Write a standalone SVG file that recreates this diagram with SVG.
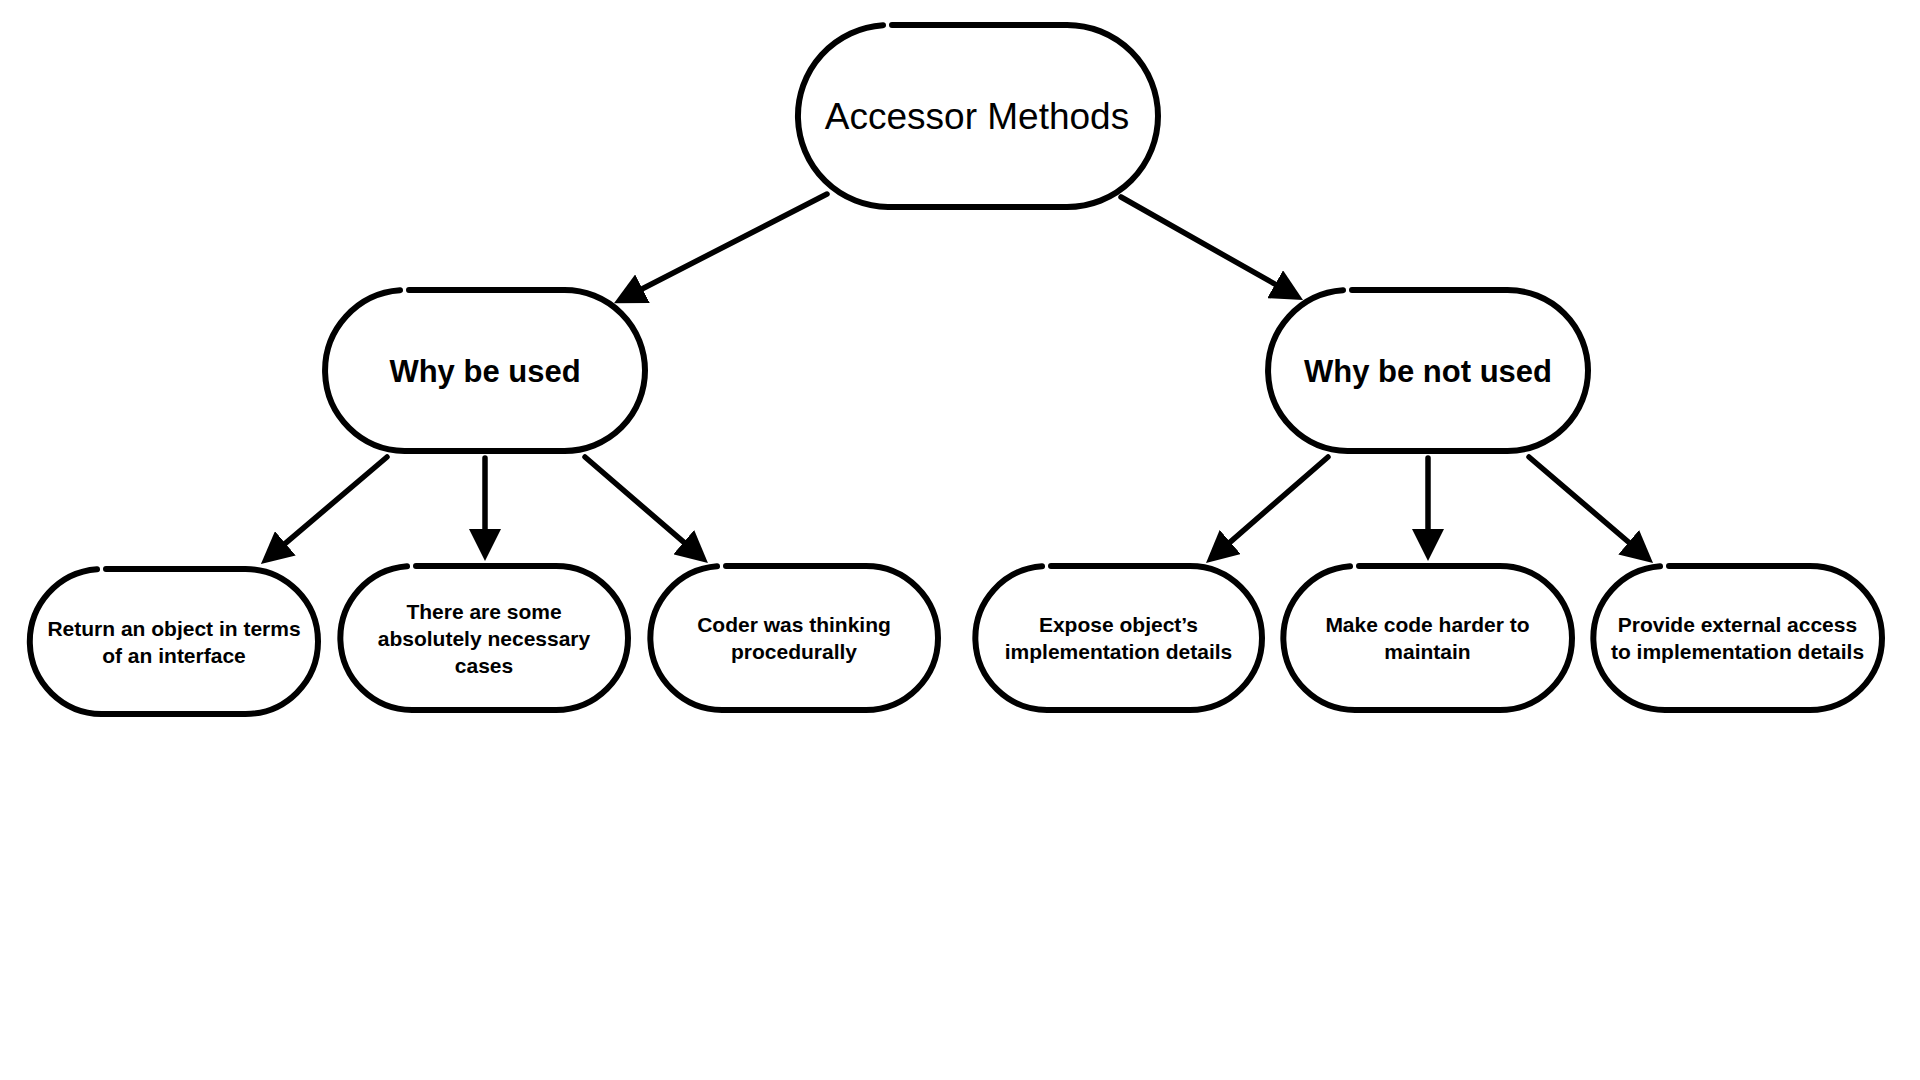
<svg xmlns="http://www.w3.org/2000/svg" width="1920" height="1080" viewBox="0 0 1920 1080">
<defs>
<style>
.node{fill:#fff;stroke:#000;stroke-width:6;stroke-linecap:round;stroke-linejoin:round}
.edge{fill:none;stroke:#000;stroke-width:5.5;stroke-linecap:round}
.t{font-family:"Liberation Sans",Arial,Helvetica,sans-serif;fill:#000;text-anchor:middle}
.title{font-size:37px}
.mid{font-size:31px;font-weight:bold}
.leaf{font-size:21px;font-weight:bold}
</style>
<marker id="arr" viewBox="0 0 32 32" refX="5" refY="16" markerWidth="32" markerHeight="32" markerUnits="userSpaceOnUse" orient="auto">
<path d="M0,0 L32,16 L0,32 z" fill="#000"/>
</marker>
</defs>
<rect width="1920" height="1080" fill="#fff"/>

<g id="connectors">
<line class="edge" x1="827" y1="194" x2="638" y2="291" marker-end="url(#arr)"/>
<line class="edge" x1="1121" y1="197" x2="1279.5" y2="286.7" marker-end="url(#arr)"/>
<line class="edge" x1="387" y1="457" x2="281.5" y2="546.6" marker-end="url(#arr)"/>
<line class="edge" x1="485" y1="458" x2="485" y2="534" marker-end="url(#arr)"/>
<line class="edge" x1="585" y1="457" x2="687.5" y2="545.4" marker-end="url(#arr)"/>
<line class="edge" x1="1328" y1="457" x2="1226.4" y2="545.3" marker-end="url(#arr)"/>
<line class="edge" x1="1428" y1="458" x2="1428" y2="534" marker-end="url(#arr)"/>
<line class="edge" x1="1529" y1="457" x2="1632.5" y2="545.5" marker-end="url(#arr)"/>
</g>

<g id="accessor-methods">
<path class="node" d="M892,25 H1067 A91,91 0 0 1 1067,207 H888 A91,91 0 0 1 883,25.2"/>
<text class="t title" x="977" y="129">Accessor Methods</text>
</g>

<g id="why-be-used">
<path class="node" d="M409,290 H564.5 A80.5,80.5 0 0 1 564.5,451 H404.5 A80.5,80.5 0 0 1 400,290.2"/>
<text class="t mid" x="485" y="382">Why be used</text>
</g>

<g id="why-be-not-used">
<path class="node" d="M1352,290 H1507.5 A80.5,80.5 0 0 1 1507.5,451 H1347.5 A80.5,80.5 0 0 1 1343,290.2"/>
<text class="t mid" x="1428" y="382">Why be not used</text>
</g>

<g id="leaf-return-object">
<path class="node" d="M106,569 H245.5 A72.5,72.5 0 0 1 245.5,714 H101.5 A72.5,72.5 0 0 1 97,569.2"/>
<text class="t leaf" x="174" y="635.5">Return an object in terms</text>
<text class="t leaf" x="174" y="662.5">of an interface</text>
</g>

<g id="leaf-necessary-cases">
<path class="node" d="M416,566 H556 A72,72 0 0 1 556,710 H412 A72,72 0 0 1 407,566.2"/>
<text class="t leaf" x="484" y="618.5">There are some</text>
<text class="t leaf" x="484" y="645.5">absolutely necessary</text>
<text class="t leaf" x="484" y="672.5">cases</text>
</g>

<g id="leaf-procedural">
<path class="node" d="M726,566 H866 A72,72 0 0 1 866,710 H722 A72,72 0 0 1 717,566.2"/>
<text class="t leaf" x="794" y="632">Coder was thinking</text>
<text class="t leaf" x="794" y="659">procedurally</text>
</g>

<g id="leaf-expose-details">
<path class="node" d="M1051,566 H1190 A72,72 0 0 1 1190,710 H1047 A72,72 0 0 1 1042,566.2"/>
<text class="t leaf" x="1118.5" y="632">Expose object’s</text>
<text class="t leaf" x="1118.5" y="659">implementation details</text>
</g>

<g id="leaf-harder-maintain">
<path class="node" d="M1359,566 H1500 A72,72 0 0 1 1500,710 H1355 A72,72 0 0 1 1350,566.2"/>
<text class="t leaf" x="1427.5" y="632">Make code harder to</text>
<text class="t leaf" x="1427.5" y="659">maintain</text>
</g>

<g id="leaf-external-access">
<path class="node" d="M1669,566 H1810 A72,72 0 0 1 1810,710 H1665 A72,72 0 0 1 1660,566.2"/>
<text class="t leaf" x="1737.5" y="632">Provide external access</text>
<text class="t leaf" x="1737.5" y="659">to implementation details</text>
</g>
</svg>
